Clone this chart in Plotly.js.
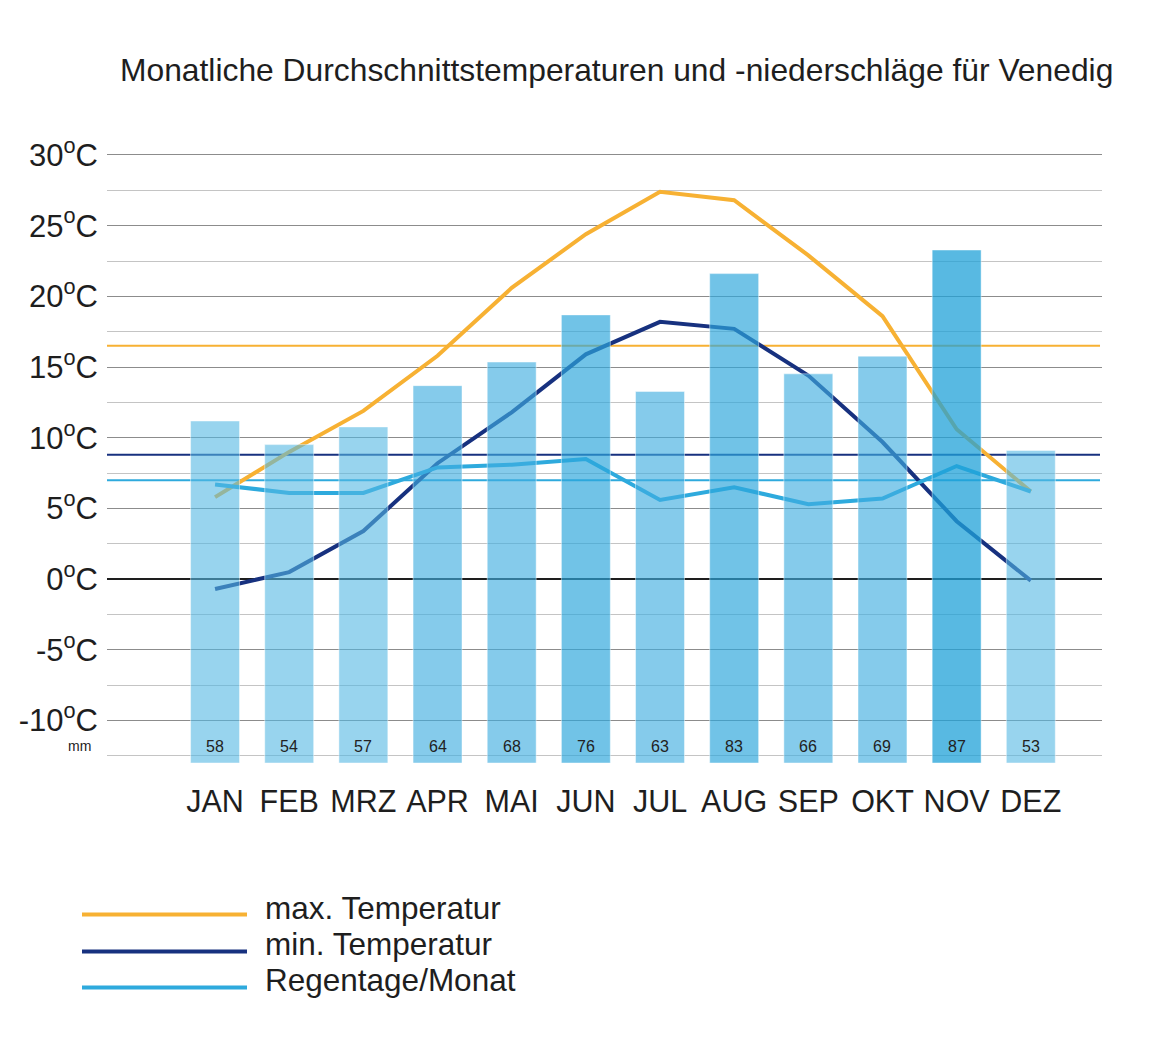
<!DOCTYPE html>
<html>
<head>
<meta charset="utf-8">
<script src="https://cdn.plot.ly/plotly-3.0.1.min.js"></script>
<style>html,body{margin:0;padding:0;background:#fff;}#chart{width:1151px;height:1047px;}</style>
</head>
<body>
<div id="chart"></div>
<script>
// ---- data ----
const months = ["JAN","FEB","MRZ","APR","MAI","JUN","JUL","AUG","SEP","OKT","NOV","DEZ"];
const maxTemp = [5.8, 9.0, 11.9, 15.8, 20.6, 24.4, 27.4, 26.8, 22.9, 18.6, 10.6, 6.2];
const minTemp = [-0.7, 0.5, 3.4, 8.2, 11.8, 15.9, 18.2, 17.7, 14.4, 9.7, 4.1, -0.1];
const rainDays = [6.7, 6.1, 6.1, 7.9, 8.1, 8.5, 5.6, 6.5, 5.3, 5.7, 8.0, 6.2];
const precipMm = [58, 54, 57, 64, 68, 76, 63, 83, 66, 69, 87, 53];
const avgMax = 16.5;
const avgMin = 8.8;
const avgRain = 7.0;
const tempTicks = [-10, -5, 0, 5, 10, 15, 20, 25, 30];
const tempTickText = tempTicks.map(v => v + "<sup>o</sup>C");
const legendNames = ["max. Temperatur", "min. Temperatur", "Regentage/Monat"];

// ---- styling ----
const W = 1151, H = 1047;
const cOrange = "#f7b133", cNavy = "#17317f", cSky = "#2eaadd";
function barColor(v){
  if (v >= 85) return "rgba(32,162,216,0.75)";
  if (v >= 70) return "rgba(45,166,219,0.68)";
  if (v >= 60) return "rgba(64,173,223,0.64)";
  return "rgba(83,183,227,0.6)";
}
const font = "Liberation Sans, Arial, Helvetica, sans-serif";

const lineTrace = (y, color, name) => ({
  type: "scatter", mode: "lines", x: months, y: y, name: name,
  line: {color: color, width: 4}, xaxis: "x", yaxis: "y", hoverinfo: "skip"
});

const traces = [
  lineTrace(maxTemp, cOrange, legendNames[0]),
  lineTrace(minTemp, cNavy, legendNames[1]),
  lineTrace(rainDays, cSky, legendNames[2]),
  {
    type: "bar", x: months, y: precipMm, xaxis: "x", yaxis: "y2",
    width: 0.66,
    marker: {color: precipMm.map(barColor), line: {color: "rgba(255,255,255,0.45)", width: 1}},
    hoverinfo: "skip"
  }
];

const plotTop = 150, plotBottom = 763.4, plotLeft = 107, plotRight = 1102;

const refX1 = (1100 - plotLeft) / (plotRight - plotLeft);
const shapes = [
  {type:"line", xref:"paper", yref:"y", x0:0, x1:refX1, y0:avgMax, y1:avgMax, line:{color:cOrange, width:2}, layer:"below"},
  {type:"line", xref:"paper", yref:"y", x0:0, x1:refX1, y0:avgMin, y1:avgMin, line:{color:cNavy, width:2}, layer:"below"},
  {type:"line", xref:"paper", yref:"y", x0:0, x1:refX1, y0:avgRain, y1:avgRain, line:{color:cSky, width:2}, layer:"below"}
];
// legend swatches (paper coords converted from pixels)
const legColors = [cOrange, cNavy, cSky];
const legY = [915, 952, 988];
const px = x => (x - plotLeft) / (plotRight - plotLeft);
const py = y => (plotBottom - y) / (plotBottom - plotTop);
legColors.forEach((c, i) => {
  shapes.push({type:"line", xref:"paper", yref:"paper", x0:px(82), x1:px(247), y0:py(legY[i]), y1:py(legY[i]), line:{color:c, width:4}});
});

const annotations = [];
legendNames.forEach((n, i) => {
  annotations.push({xref:"paper", yref:"paper", x:px(263), y:py(legY[i]-7), text:n, showarrow:false, xanchor:"left", yanchor:"middle", font:{family:font, size:31.5, color:"#1e1e1e"}});
});
precipMm.forEach((v, i) => {
  annotations.push({xref:"x", yref:"y2", x:months[i], y:0, yshift:17, text:String(v), showarrow:false, xanchor:"center", yanchor:"middle", font:{family:font, size:16, color:"#222"}});
});
annotations.push({xref:"paper", yref:"paper", x:px(79), y:py(746), text:"mm", showarrow:false, xanchor:"center", yanchor:"middle", font:{family:font, size:14, color:"#222"}});

const layout = {
  width: W, height: H,
  margin: {l: plotLeft, r: W - plotRight, t: plotTop, b: H - plotBottom},
  paper_bgcolor: "#fff", plot_bgcolor: "rgba(0,0,0,0)",
  showlegend: false,
  font: {family: font, color: "#1e1e1e"},
  title: {text: "Monatliche Durchschnittstemperaturen und -niederschläge für Venedig",
    x: 120/W, xanchor: "left", xref: "container", y: 1 - 70/H, yanchor: "middle", yref: "container",
    font: {family: font, size: 31.8, color: "#1e1e1e"}},
  xaxis: {
    type: "category", range: [-1.457, 11.96], showgrid: false, zeroline: false, showline: false,
    ticks: "", tickfont: {family: font, size: 30.5, color: "#1e1e1e"}, ticklabelstandoff: 17, fixedrange: true
  },
  yaxis: {
    range: [-13.0, 30.35], tickvals: tempTicks, ticktext: tempTickText,
    showgrid: true, gridcolor: "#8c8c8c", gridwidth: 1,
    zeroline: true, zerolinecolor: "#1e1e1e", zerolinewidth: 1.5,
    minor: {dtick: 2.5, tick0: 0, showgrid: true, gridcolor: "#c4c4c4", gridwidth: 1, ticks: ""},
    showline: false, ticks: "", ticklabelstandoff: 8,
    tickfont: {family: font, size: 31, color: "#1e1e1e"}
  },
  yaxis2: {
    overlaying: "y", range: [0, (plotBottom - plotTop)/5.9], showgrid: false, zeroline: false,
    showticklabels: false, ticks: "", showline: false
  },
  bargap: 0.34,
  shapes: shapes,
  annotations: annotations
};

Plotly.newPlot("chart", traces, layout, {displayModeBar: false, staticPlot: true});
</script>
</body>
</html>
